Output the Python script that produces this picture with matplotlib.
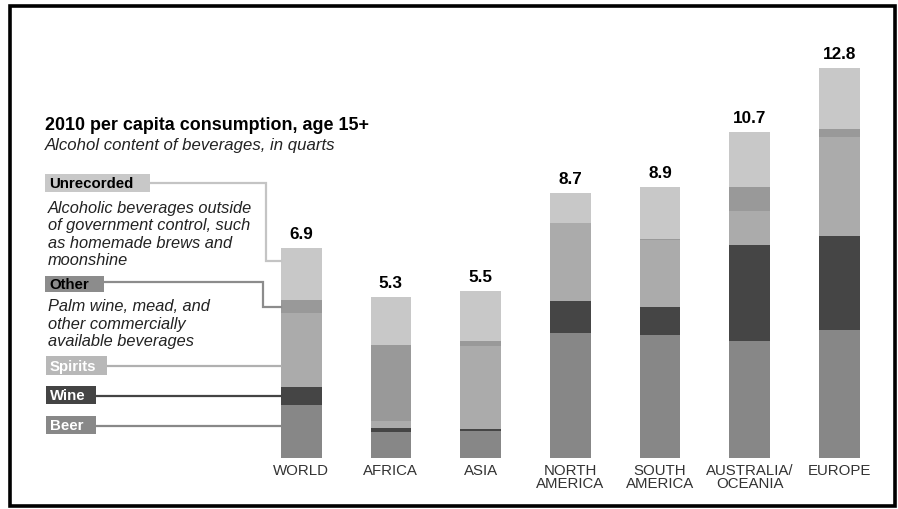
import matplotlib
matplotlib.use("Agg")
import matplotlib.pyplot as plt
from matplotlib.patches import Rectangle

plt.rcParams['font.family'] = ['Liberation Sans', 'DejaVu Sans']

regions = ["WORLD", "AFRICA", "ASIA", "NORTH\nAMERICA", "SOUTH\nAMERICA",
           "AUSTRALIA/\nOCEANIA", "EUROPE"]
totals = [6.9, 5.3, 5.5, 8.7, 8.9, 10.7, 12.8]
beer = [1.75, 0.86, 0.89, 4.10, 4.05, 3.85, 4.22]
wine = [0.60, 0.14, 0.08, 1.05, 0.90, 3.13, 3.08]
spirits = [2.40, 0.22, 2.71, 2.56, 2.20, 1.13, 3.25]
other = [0.45, 2.50, 0.15, 0.00, 0.05, 0.79, 0.25]
unrecorded = [1.70, 1.58, 1.67, 0.99, 1.70, 1.80, 2.00]

series = [("Beer", beer, "#878787"),
          ("Wine", wine, "#454545"),
          ("Spirits", spirits, "#ababab"),
          ("Other", other, "#999999"),
          ("Unrecorded", unrecorded, "#c8c8c8")]

W, H = 898, 510
fig = plt.figure(figsize=(W / 100, H / 100), dpi=100)
ax = fig.add_axes([0, 0, 1, 1])

# pixel geometry
x0_px, dx_px = 301.2, 89.7
base_px, unit_px = 459.3, 30.5
ax.set_xlim(-x0_px / dx_px, (W - x0_px) / dx_px)
ax.set_ylim(-(H - base_px) / unit_px, base_px / unit_px)
ax.axis('off')

def X(px):
    return (px - x0_px) / dx_px

def Y(py):
    return (base_px - py) / unit_px

bar_w = 40.7 / dx_px
xs = list(range(len(regions)))
bottoms = [0.0] * len(regions)
for name, vals, col in series:
    ax.bar(xs, vals, width=bar_w, bottom=bottoms, color=col, edgecolor='none')
    bottoms = [b + v for b, v in zip(bottoms, vals)]

for x, t in zip(xs, totals):
    ax.text(x, t + 14 / unit_px, f"{t}", ha='center', va='center',
            fontsize=12.3, fontweight='bold', color='black')

for x, lab in zip(xs, regions):
    ax.text(x, Y(464), lab, ha='center', va='top', fontsize=10.8,
            color='#333333', linespacing=0.95)

# title
ax.text(X(45), Y(125), "2010 per capita consumption, age 15+", ha='left',
        va='center', fontsize=12.9, fontweight='bold', color='black')
ax.text(X(45), Y(145.5), "Alcohol content of beverages, in quarts", ha='left',
        va='center', fontsize=12.1, style='italic', color='#222222')

# legend boxes
bar_left = -bar_w / 2
legend = [
    ("Unrecorded", 45, 150, 175, 193.3, "#c8c8c8", "black", "#c4c4c4",
     [(150, 184.3), (266, 184.3), (266, 261.7), (281, 261.7)]),
    ("Other", 45, 104, 276.7, 292.7, "#8c8c8c", "black", "#8c8c8c",
     [(104, 282.7), (263, 282.7), (263, 307.5), (281, 307.5)]),
    ("Spirits", 45.7, 107.3, 357.3, 376, "#b8b8b8", "white", "#b0b0b0",
     [(107.3, 367), (281, 367)]),
    ("Wine", 45.7, 95.7, 386.7, 405, "#444444", "white", "#444444",
     [(95.7, 396.5), (281, 396.5)]),
    ("Beer", 45.7, 96, 416.7, 435, "#888888", "white", "#888888",
     [(96, 426.5), (281, 426.5)]),
]
for lab, l, r, t, b, fc, tc, lc, pts in legend:
    ax.plot([X(p[0]) for p in pts[:-1]] + [bar_left],
            [Y(p[1]) for p in pts], color=lc, lw=1.6, solid_joinstyle='miter',
            zorder=1)
    ax.add_patch(Rectangle((X(l), Y(b)), X(r) - X(l), Y(t) - Y(b),
                           facecolor=fc, edgecolor='none', zorder=2))
    ax.text(X(l + 4), Y((t + b) / 2), lab, ha='left', va='center',
            fontsize=10.8, fontweight='bold', color=tc, zorder=3)

desc1 = ["Alcoholic beverages outside", "of government control, such",
         "as homemade brews and", "moonshine"]
for i, line in enumerate(desc1):
    ax.text(X(48), Y(208 + 17.6 * i), line, ha='left', va='center',
            fontsize=11.8, style='italic', color='#222222')
desc2 = ["Palm wine, mead, and", "other commercially",
         "available beverages"]
for i, line in enumerate(desc2):
    ax.text(X(48), Y(306.7 + 17.3 * i), line, ha='left', va='center',
            fontsize=11.8, style='italic', color='#222222')

# outer frame
ax.add_patch(Rectangle((X(9.5), Y(506.5)), X(894.5) - X(9.5),
                       Y(7) - Y(506.5), facecolor='none', edgecolor='black',
                       lw=2.6, zorder=5))

fig.savefig("out.png", dpi=100)
